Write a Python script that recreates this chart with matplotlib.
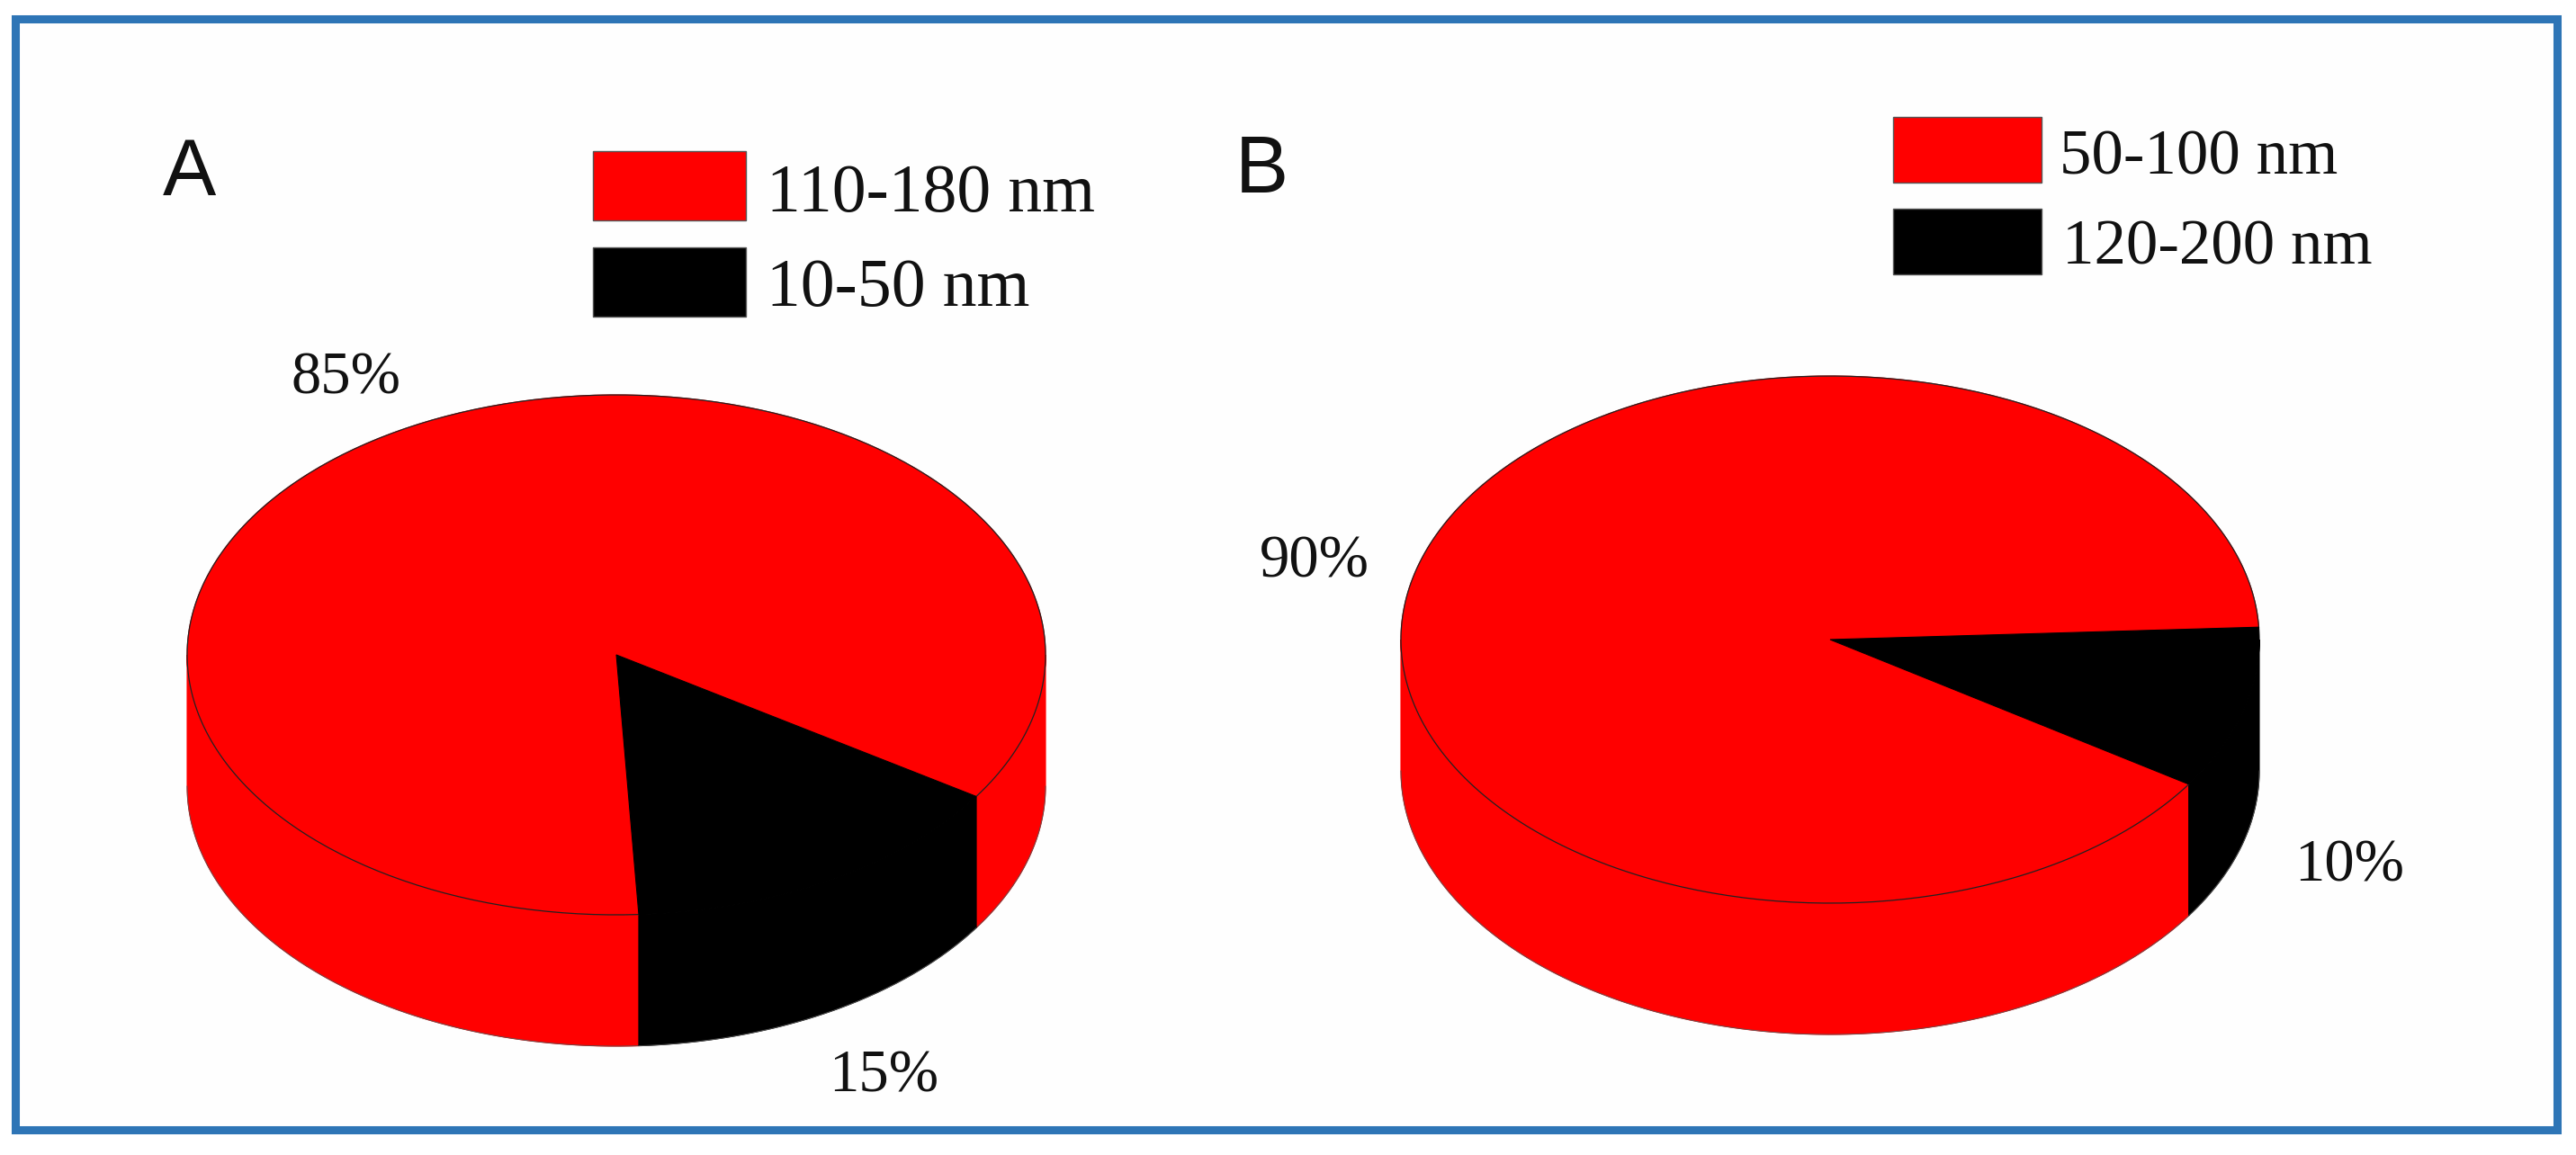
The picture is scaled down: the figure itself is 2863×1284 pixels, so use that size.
import numpy as np
import matplotlib
matplotlib.use("Agg")
import matplotlib.pyplot as plt
import matplotlib.patches as patches

W, H = 2863, 1284

colors = ["#ff0000", "#000000"]
frame_color = "#2e75b6"

labels_a = ["110-180 nm", "10-50 nm"]
values_a = [85, 15]
pct_a = ["85%", "15%"]

labels_b = ["50-100 nm", "120-200 nm"]
values_b = [90, 10]
pct_b = ["90%", "10%"]


def slice_points(cx, cy, rx, ry, a0, a1):
    t = np.radians(np.linspace(a0, a1, 300))
    return cx + rx * np.cos(t), cy - ry * np.sin(t)


def draw_pie(ax, values, start, cx, cy, rx, ry, depth):
    """3D looking pie: side wall first, then the flat top."""
    shares = np.array(values) / sum(values) * 360
    edges = start + np.concatenate([[0], np.cumsum(shares)])

    # wall is only visible on the front half of the ellipse
    for i, color in enumerate(colors):
        for lo, hi in [(-180, 0), (180, 360)]:
            a0, a1 = max(edges[i], lo), min(edges[i + 1], hi)
            if a1 <= a0:
                continue
            x, y = slice_points(cx, cy, rx, ry, a0, a1)
            ax.fill(np.r_[x, x[::-1]], np.r_[y, y[::-1] + depth],
                    facecolor=color, edgecolor=color, lw=0.8, zorder=2)
            ax.plot(x, y + depth, color="#555555", lw=0.6, zorder=2)

    for i, color in enumerate(colors):
        x, y = slice_points(cx, cy, rx, ry, edges[i], edges[i + 1])
        ax.fill(np.r_[cx, x], np.r_[cy, y], facecolor=color, edgecolor=color,
                lw=0.8, zorder=3 + i)
        if color != "#000000":
            ax.plot(x, y, color="#222222", lw=0.9, zorder=3)


def draw_legend(ax, labels, x, ys, box_w, box_h, text_xs, baselines, size):
    for label, color, y, tx, base in zip(labels, colors, ys, text_xs, baselines):
        ax.add_patch(patches.Rectangle((x, y), box_w, box_h, facecolor=color,
                                       edgecolor="#555555", linewidth=1.0, zorder=3))
        ax.text(tx, base, label, fontsize=size, family="Liberation Serif",
                color="#111111", va="baseline", ha="left", zorder=5)


fig = plt.figure(figsize=(W / 100, H / 100), dpi=100, facecolor="white")
ax = fig.add_axes([0, 0, 1, 1])
ax.set_xlim(0, W)
ax.set_ylim(H, 0)
ax.axis("off")

# blue frame round the whole picture
ax.add_patch(patches.Rectangle((17, 21), 2825, 1235, facecolor="#fefefe",
                               edgecolor=frame_color, linewidth=6.5, zorder=1))

draw_pie(ax, values_a, -33, 685, 728, 477, 289, 146)
draw_pie(ax, values_b, 2.7, 2034, 711, 477, 293, 146)

draw_legend(ax, labels_a, 659, [168, 275], 170, 77, [852, 852], [235, 340], 54.5)
draw_legend(ax, labels_b, 2104, [130, 232], 165, 73, [2289, 2292], [193, 293], 51)

for s, x, y in [("A", 181, 217), ("B", 1373, 214)]:
    ax.text(x, y, s, fontsize=64, family="Liberation Sans", color="#111111",
            va="baseline", ha="left", zorder=5)

pct_pos = [(pct_a[0], 323, 437), (pct_a[1], 921, 1213),
           (pct_b[0], 1400, 641), (pct_b[1], 2550, 980)]
for s, x, y in pct_pos:
    ax.text(x, y, s, fontsize=48, family="Liberation Serif", color="#111111",
            va="baseline", ha="left", zorder=5)

fig.savefig("out.png", dpi=100)
